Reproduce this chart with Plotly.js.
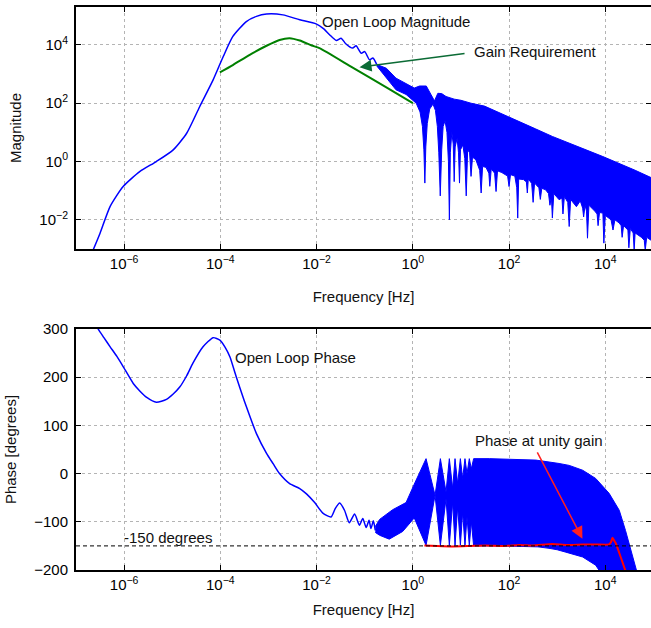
<!DOCTYPE html>
<html>
<head>
<meta charset="utf-8">
<script src="https://cdn.plot.ly/plotly-3.0.1.min.js"></script>
<style>html,body{margin:0;padding:0;background:#fff;}#chart{width:651px;height:628px;}</style>
</head>
<body>
<div id="chart"></div>
<script>
// ---- Data (frequencies and magnitudes as base-10 exponents, phase in degrees) ----
// Open-loop magnitude, smooth low-frequency part
const magMainFreqExp = [-6.64,-6.5,-6.29,-6.02,-5.67,-5.33,-4.98,-4.70,-4.43,-4.15,-3.94,-3.74,-3.46,-3.25,-3.04,-2.70,-2.35,-2.01,-1.85,-1.73,-1.59,-1.49,-1.40,-1.25,-1.18,-1.07,-1.0,-0.90,-0.83,-0.75];
const magMainValExp  = [-3.02,-2.46,-1.54,-0.86,-0.34,0.0,0.40,0.97,1.88,2.80,3.60,4.29,4.80,4.98,5.06,5.03,4.86,4.72,4.55,4.35,4.15,4.23,4.05,3.89,3.97,3.71,3.77,3.49,3.55,3.33];
// Open-loop magnitude, dense resonant band: upper envelope
const magUpFreqExp = [-0.75,-0.55,-0.35,-0.17,0.03,0.14,0.28,0.38,0.45,0.52,0.60,0.69,0.86,1.0,1.21,1.49,1.80,2.21,2.55,2.90,3.25,3.60,3.95,4.29,4.62,4.95];
const magUpValExp  = [3.33,3.20,2.86,2.69,2.52,2.59,2.59,2.29,2.08,2.34,2.33,2.23,2.14,2.10,2.00,1.90,1.68,1.38,1.12,0.86,0.62,0.40,0.17,-0.06,-0.30,-0.55];
// Open-loop magnitude, dense resonant band: lower edge with notches
const magLoFreqExp = [-0.75,-0.55,-0.35,-0.14,0.0,0.07,0.15,0.20,0.23,0.25,0.27,0.30,0.35,0.42,0.47,0.51,0.54,0.57,0.60,0.63,0.67,0.71,0.74,0.76,0.78,0.81,0.84,0.86,0.88,0.92,0.95,0.97,0.99,1.04,1.08,1.11,1.14,1.18,1.21,1.24,1.31,1.39,1.42,1.45,1.52,1.58,1.60,1.63,1.70,1.73,1.76,1.85,1.97,2.0,2.03,2.12,2.16,2.18,2.20,2.30,2.36,2.38,2.40,2.47,2.50,2.53,2.62,2.65,2.68,2.76,2.82,2.85,2.88,2.90,2.93,3.04,3.10,3.12,3.15,3.22,3.25,3.28,3.40,3.48,3.53,3.55,3.58,3.61,3.63,3.66,3.78,3.83,3.85,3.88,3.95,3.97,4.00,4.12,4.16,4.20,4.29,4.33,4.35,4.38,4.47,4.49,4.52,4.58,4.60,4.62,4.75,4.81,4.83,4.86,4.95];
const magLoValExp  = [3.28,2.86,2.46,2.30,2.10,2.00,1.70,1.20,0.40,-0.74,0.50,1.30,1.80,1.97,1.75,1.20,0.30,-1.18,0.40,1.20,1.40,1.00,0.00,-2.00,0.30,1.00,0.60,-0.69,0.50,0.80,0.30,-0.74,0.40,0.57,0.10,-1.18,0.40,0.30,-0.51,0.15,0.06,-0.30,-1.08,-0.17,-0.20,-0.40,-0.85,-0.25,-0.40,-1.03,-0.32,-0.38,-0.50,-0.86,-0.45,-0.50,-0.90,-1.94,-0.60,-0.62,-0.70,-1.08,-0.60,-0.75,-1.40,-0.74,-0.90,-1.30,-0.92,-0.97,-1.10,-1.50,-1.20,-1.94,-1.10,-1.31,-1.25,-1.80,-1.20,-1.40,-2.23,-1.30,-1.55,-1.35,-1.60,-1.90,-1.50,-1.70,-2.63,-1.50,-1.70,-1.80,-2.20,-1.75,-1.77,-2.80,-1.85,-2.00,-2.35,-2.00,-2.11,-2.20,-2.60,-2.20,-2.35,-2.96,-2.30,-2.45,-3.05,-2.45,-2.60,-2.70,-3.05,-2.60,-2.70];
// Gain requirement
const gainReqFreqExp = [-4.01,-3.74,-3.39,-3.04,-2.77,-2.56,-2.35,-2.10,-1.94,-1.25,-0.55,0.0];
const gainReqValExp  = [3.06,3.31,3.66,3.97,4.17,4.23,4.15,3.98,3.89,3.22,2.54,2.0];

// Open-loop phase, smooth part
const phMainFreqExp = [-6.62,-6.54,-6.42,-6.29,-6.15,-6.02,-5.81,-5.67,-5.53,-5.33,-5.12,-4.98,-4.84,-4.70,-4.57,-4.36,-4.15,-4.01,-3.90,-3.80,-3.67,-3.46,-3.25,-3.04,-2.90,-2.77,-2.56,-2.35,-2.21,-2.04,-1.87,-1.70,-1.61,-1.52,-1.42,-1.32,-1.21,-1.11,-1.04,-0.97,-0.91,-0.87,-0.82,-0.78];
const phMainDeg     = [315,300,282,263,243,222,187,171,158,148,154,165,180,203,229,263,282,277,262,242,201,139,83,42,20,0,-21,-31,-42,-60,-82,-90,-72,-61,-76,-102,-84,-107,-93,-112,-97,-114,-98,-118];
// Open-loop phase, dense band: upper and lower envelopes
const phUpFreqExp = [-0.78,-0.69,-0.42,-0.14,0.03,0.275,0.462,0.573,0.690,0.759,0.828,0.877,0.932,0.988,1.036,1.084,1.126,1.174,1.216,1.264,1.6,2.0,2.56,3.04,3.25,3.53,3.80,4.08,4.29,4.42,4.56,4.63,4.66];
const phUpDeg     = [-110,-95,-75,-60,-22,31,-45,31,-38,31,-31,31,-21,31,-10,31,0,31,10,31,31,30,28,21,17,7,-10,-41,-76,-118,-166,-194,-205];
const phLoFreqExp = [-0.78,-0.69,-0.49,-0.21,0.03,0.275,0.462,0.573,0.690,0.759,0.828,0.877,0.932,0.988,1.036,1.084,1.126,1.174,1.216,1.264,1.8,2.3,2.6,2.83,3.0,3.18,3.35,3.53,3.80,3.9,4.66];
const phLoDeg     = [-122,-128,-136,-120,-92,-149,-45,-149,-52,-149,-59,-149,-69,-149,-80,-149,-90,-149,-100,-150,-150,-151,-152,-155,-158,-163,-168,-173,-190,-205,-205];
// Phase at unity gain
const unityFreqExp = [0.24,0.5,0.83,1.2,1.52,1.9,2.21,2.5,2.9,3.2,3.53,3.8,4.08,4.12,4.15,4.19,4.22,4.32,4.42];
const unityDeg     = [-149,-150,-151,-150,-149,-150,-148,-149,-146,-148,-147,-147,-147,-142,-133,-140,-145,-173,-202];
const refPhaseDeg = -150;

// Tick labels
const freqTickExp = [-6,-4,-2,0,2,4];
const magTickExp = [-2,0,2,4];
const expLabel = e => '10<sup>' + (e < 0 ? '\u2212' + (-e) : e) + '</sup>';

// Labels
const labels = {
  mag: 'Open Loop Magnitude', gain: 'Gain Requirement', phase: 'Open Loop Phase',
  unity: 'Phase at unity gain', ref: '-150 degrees',
  xTitle: 'Frequency [Hz]', yMag: 'Magnitude', yPh: 'Phase [degrees]'
};

const p10 = a => a.map(v => Math.pow(10, v));
const BLUE = '#0000ff';
const FONT = 'Liberation Sans, Arial, Helvetica, sans-serif';

const traces = [
  {x: p10(magMainFreqExp), y: p10(magMainValExp), xaxis:'x', yaxis:'y', mode:'lines',
   line:{color:BLUE, width:1.5, shape:'spline', smoothing:0.6}},
  {x: p10(magUpFreqExp), y: p10(magUpValExp), xaxis:'x', yaxis:'y', mode:'lines',
   line:{color:BLUE, width:1}},
  {x: p10(magLoFreqExp), y: p10(magLoValExp), xaxis:'x', yaxis:'y', mode:'lines',
   line:{color:BLUE, width:1}, fill:'tonexty', fillcolor:BLUE},
  {x: p10(gainReqFreqExp), y: p10(gainReqValExp), xaxis:'x', yaxis:'y', mode:'lines',
   line:{color:'#008000', width:2, shape:'spline', smoothing:0.6}},

  {x: p10(phMainFreqExp), y: phMainDeg, xaxis:'x2', yaxis:'y2', mode:'lines',
   line:{color:BLUE, width:1.5, shape:'spline', smoothing:0.6}},
  {x: p10(phUpFreqExp), y: phUpDeg, xaxis:'x2', yaxis:'y2', mode:'lines',
   line:{color:BLUE, width:1}},
  {x: p10(phLoFreqExp), y: phLoDeg, xaxis:'x2', yaxis:'y2', mode:'lines',
   line:{color:BLUE, width:1}, fill:'tonexty', fillcolor:BLUE},
  {x: p10(unityFreqExp), y: unityDeg, xaxis:'x2', yaxis:'y2', mode:'lines',
   line:{color:'#ff0000', width:2, shape:'spline', smoothing:0.5}}
];

const axisCommon = {
  showline:true, linecolor:'#000', linewidth:2, mirror:'allticks',
  ticks:'inside', ticklen:5, tickcolor:'#000', tickwidth:1,
  showgrid:true, gridcolor:'#b4b4b4', griddash:'dot', gridwidth:1,
  zeroline:false, tickfont:{family:FONT, size:15, color:'#000'}
};
const logX = Object.assign({}, axisCommon, {type:'log', range:[-7, 4.95],
  tickmode:'array', tickvals:p10(freqTickExp), ticktext:freqTickExp.map(expLabel)});

const layout = {
  width:651, height:628, showlegend:false, hovermode:false,
  paper_bgcolor:'#fff', plot_bgcolor:'#fff',
  margin:{l:76, r:0, t:7, b:58},
  xaxis: Object.assign({}, logX, {anchor:'y',
    title:{text:labels.xTitle, font:{family:FONT, size:15, color:'#111'}, standoff:21}}),
  yaxis: Object.assign({}, axisCommon, {type:'log', range:[-3, 5.3],
    tickmode:'array', tickvals:p10(magTickExp), ticktext:magTickExp.map(expLabel),
    domain:[0.5702, 1], anchor:'x', ticklabelstandoff:3,
    title:{text:labels.yMag, font:{family:FONT, size:15, color:'#111'}, standoff:14}}),
  xaxis2: Object.assign({}, logX, {anchor:'y2',
    title:{text:labels.xTitle, font:{family:FONT, size:15, color:'#111'}, standoff:12}}),
  yaxis2: Object.assign({}, axisCommon, {range:[-200, 300], dtick:100, domain:[0, 0.4281], anchor:'x2', ticklabelstandoff:3,
    title:{text:labels.yPh, font:{family:FONT, size:15, color:'#111'}, standoff:14}}),
  shapes: [
    {type:'line', xref:'x2 domain', yref:'y2', x0:0, x1:1, y0:refPhaseDeg, y1:refPhaseDeg,
     line:{color:'#000', width:1, dash:'4px,3px'}}
  ],
  annotations: [
    {xref:'x', yref:'y', x:-1.938, y:4.80, text:labels.mag, showarrow:false, xanchor:'left', yanchor:'middle',
     font:{family:FONT, size:15, color:'#111'}},
    {xref:'x', yref:'y', x:1.237, y:3.77, text:labels.gain, showarrow:false, xanchor:'left', yanchor:'middle',
     font:{family:FONT, size:15, color:'#111'}},
    {xref:'x', yref:'y', x:-1.108, y:3.235, axref:'x', ayref:'y', ax:1.106, ay:3.715, text:'',
     showarrow:true, arrowhead:2, arrowsize:1.6, arrowwidth:1.5, arrowcolor:'#0b6b35'},
    {xref:'x2', yref:'y2', x:-3.743, y:240, text:labels.phase, showarrow:false, xanchor:'left', yanchor:'middle',
     font:{family:FONT, size:15, color:'#111'}},
    {xref:'x2', yref:'y2', x:1.243, y:69, text:labels.unity, showarrow:false, xanchor:'left', yanchor:'middle',
     font:{family:FONT, size:15, color:'#111'}},
    {xref:'x2', yref:'y2', x:-6.046, y:-132, text:labels.ref, showarrow:false, xanchor:'left', yanchor:'middle',
     font:{family:FONT, size:15, color:'#111'}},
    {xref:'x2', yref:'y2', x:3.525, y:-135, axref:'x2', ayref:'y2', ax:2.571, ay:47, text:'',
     showarrow:true, arrowhead:2, arrowsize:1.6, arrowwidth:1.5, arrowcolor:'#ff2020'}
  ]
};

Plotly.newPlot('chart', traces, layout, {displayModeBar:false, staticPlot:true});
</script>
</body>
</html>
